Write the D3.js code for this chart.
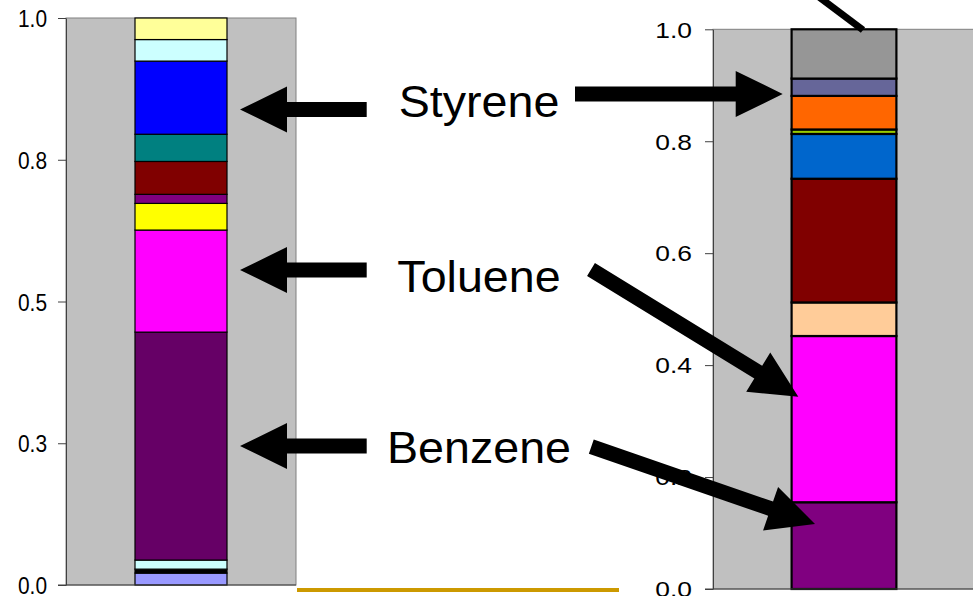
<!DOCTYPE html>
<html>
<head>
<meta charset="utf-8">
<script src="https://cdn.jsdelivr.net/npm/d3@7"></script>
<style>
  html, body { margin: 0; padding: 0; background: #ffffff; }
  svg { display: block; font-family: "Liberation Sans", Arial, sans-serif; }
</style>
</head>
<body>
<svg id="chart" width="973" height="596"></svg>
<script>
// Composition fractions, stacked bottom to top
const leftCategories = ["A"];
const leftValues = [0.021, 0.007, 0.016, 0.402, 0.180, 0.047, 0.016, 0.058, 0.048, 0.129, 0.038, 0.038];
const leftColors = ["#9999FF", "#000000", "#CCFFFF", "#660066", "#FF00FF", "#FFFF00",
                    "#800080", "#800000", "#008080", "#0000FF", "#CCFFFF", "#FFFF99"];

const rightCategories = ["B"];
const rightValues = [0.155, 0.297, 0.060, 0.221, 0.080, 0.008, 0.060, 0.031, 0.088];
const rightColors = ["#800080", "#FF00FF", "#FFCC99", "#800000", "#0066CC",
                     "#99CC00", "#FF6600", "#666699", "#969696"];

const leftTickValues = [0, 0.25, 0.5, 0.75, 1.0];
const leftTickLabels = ["0.0", "0.3", "0.5", "0.8", "1.0"];
const rightTickValues = [0, 0.2, 0.4, 0.6, 0.8, 1.0];
const rightTickLabels = ["0.0", "0.2", "0.4", "0.6", "0.8", "1.0"];

const labels = ["Styrene", "Toluene", "Benzene"];

const svg = d3.select("#chart");

function drawPanel(cfg) {
  const x = d3.scaleBand().domain(cfg.categories).range([cfg.x0, cfg.x1])
    .paddingInner(0.6).paddingOuter(0.3);
  const y = d3.scaleLinear().domain([0, 1]).range([cfg.y0, cfg.y1]);

  // plot area
  svg.append("rect")
    .attr("x", cfg.x0).attr("y", cfg.y1)
    .attr("width", cfg.x1 - cfg.x0).attr("height", cfg.y0 - cfg.y1)
    .attr("fill", "#C0C0C0").attr("stroke", "#808080").attr("stroke-width", 1);

  // stacked segments
  const tops = d3.cumsum(cfg.values);
  const segs = cfg.values.map((v, i) => ({ lo: tops[i] - v, hi: tops[i], color: cfg.colors[i] }));
  svg.append("g").selectAll("rect").data(segs).join("rect")
    .attr("x", x(cfg.categories[0]))
    .attr("width", x.bandwidth())
    .attr("y", d => y(d.hi))
    .attr("height", d => y(d.lo) - y(d.hi))
    .attr("fill", d => d.color)
    .attr("stroke", "#000").attr("stroke-width", cfg.barStroke);

  // y axis
  const axis = d3.axisLeft(y).tickValues(cfg.tickValues)
    .tickFormat((d, i) => cfg.tickLabels[i]).tickSize(8).tickSizeOuter(0);
  const g = svg.append("g").attr("transform", `translate(${cfg.x0},0)`).call(axis);
  g.select(".domain").attr("stroke", cfg.axisColor);
  g.selectAll(".tick line").attr("stroke", cfg.axisColor);
  g.selectAll(".tick text")
    .attr("x", 0).attr("dy", null)
    .attr("transform", `translate(${-cfg.labelGap},${cfg.baseShift}) scale(${cfg.sx},1)`)
    .attr("font-size", cfg.fontSize)
    .attr("font-family", "Liberation Sans, Arial, sans-serif")
    .attr("fill", "#000");
  // x axis line
  svg.append("line")
    .attr("x1", cfg.x0 - 8).attr("x2", cfg.x1)
    .attr("y1", cfg.y0).attr("y2", cfg.y0)
    .attr("stroke", cfg.axisColor);
  return { x, y };
}

drawPanel({
  categories: leftCategories, values: leftValues, colors: leftColors,
  x0: 66, x1: 296, y0: 585, y1: 18,
  tickValues: leftTickValues, tickLabels: leftTickLabels,
  barStroke: 1.2, axisColor: "#404040",
  labelGap: 19, baseShift: 8.6, sx: 0.87, fontSize: 24
});

drawPanel({
  categories: rightCategories, values: rightValues, colors: rightColors,
  x0: 713, x1: 975, y0: 589, y1: 29.3,
  tickValues: rightTickValues, tickLabels: rightTickLabels,
  barStroke: 2.2, axisColor: "#404040",
  labelGap: 21, baseShift: 7.8, sx: 1.2, fontSize: 22
});

// gold rule under the gap between panels
svg.append("rect").attr("x", 297).attr("y", 588).attr("width", 322).attr("height", 4)
  .attr("fill", "#CC9900");

// compound labels
const labelY = [116.7, 291.7, 463.3];
svg.append("g").selectAll("text").data(labels).join("text")
  .attr("transform", (d, i) => `translate(479,${labelY[i]}) scale(1.06,1)`)
  .attr("text-anchor", "middle")
  .attr("font-size", 44)
  .attr("fill", "#000")
  .text(d => d);

// block arrows: tail point -> tip point
function arrowPath(x0, y0, x1, y1, shaft = 15, headLen = 47, headW = 46) {
  const dx = x1 - x0, dy = y1 - y0, L = Math.hypot(dx, dy);
  const ux = dx / L, uy = dy / L, px = -uy, py = ux;
  const bx = x1 - ux * headLen, by = y1 - uy * headLen;
  const s = shaft / 2, h = headW / 2;
  const pts = [
    [x0 + px * s, y0 + py * s], [bx + px * s, by + py * s], [bx + px * h, by + py * h],
    [x1, y1],
    [bx - px * h, by - py * h], [bx - px * s, by - py * s], [x0 - px * s, y0 - py * s]
  ];
  return "M" + pts.map(p => p.join(",")).join("L") + "Z";
}

const arrows = [
  [366.7, 109.5, 240, 109.5],
  [366.7, 270, 240, 270],
  [366.7, 446, 240, 446],
  [575, 94, 782.7, 94],
  [591, 269.5, 798.3, 396.7],
  [591.3, 446.7, 815, 524]
];
svg.append("g").selectAll("path").data(arrows).join("path")
  .attr("d", d => arrowPath(...d))
  .attr("fill", "#000");

// leader line to the top segment
svg.append("line")
  .attr("x1", 815).attr("y1", -6).attr("x2", 863).attr("y2", 30)
  .attr("stroke", "#000").attr("stroke-width", 7);
</script>
</body>
</html>
